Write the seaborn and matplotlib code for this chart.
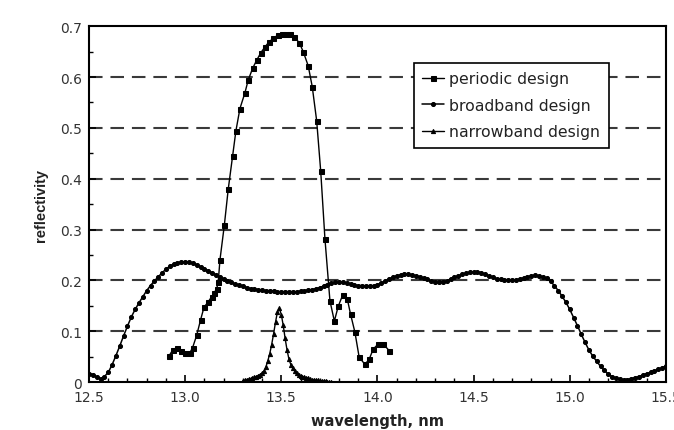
import matplotlib
matplotlib.use("Agg")
import matplotlib.pyplot as plt
import seaborn as sns
from matplotlib.ticker import MultipleLocator, FormatStrFormatter

# ---------------- data ----------------
periodic_wl = [12.917, 12.935, 12.956, 12.978, 13.000, 13.025, 13.039, 13.060, 13.080, 13.098,
               13.120, 13.138, 13.152, 13.164, 13.172, 13.181, 13.204, 13.224, 13.247, 13.264,
               13.285, 13.311, 13.328, 13.351, 13.372, 13.394, 13.415, 13.436, 13.458, 13.481,
               13.502, 13.524, 13.545, 13.568, 13.594, 13.614, 13.640, 13.661, 13.684, 13.705,
               13.727, 13.753, 13.776, 13.796, 13.819, 13.843, 13.860, 13.883, 13.905, 13.935,
               13.957, 13.978, 14.004, 14.030, 14.061]
periodic_r = [0.052, 0.063, 0.068, 0.062, 0.057, 0.058, 0.068, 0.092, 0.122, 0.147,
              0.158, 0.168, 0.176, 0.184, 0.196, 0.240, 0.309, 0.379, 0.445, 0.494,
              0.538, 0.569, 0.594, 0.617, 0.633, 0.648, 0.659, 0.669, 0.676, 0.682,
              0.685, 0.685, 0.684, 0.679, 0.667, 0.650, 0.622, 0.581, 0.514, 0.415,
              0.282, 0.160, 0.120, 0.149, 0.171, 0.164, 0.134, 0.098, 0.049, 0.035,
              0.045, 0.065, 0.075, 0.075, 0.062]

broadband_wl = [12.50, 12.52, 12.54, 12.56, 12.58, 12.60, 12.62, 12.64, 12.66, 12.68,
                12.70, 12.72, 12.74, 12.76, 12.78, 12.80, 12.82, 12.84, 12.86, 12.88,
                12.90, 12.92, 12.94, 12.96, 12.98, 13.00, 13.02, 13.04, 13.06, 13.08,
                13.10, 13.12, 13.14, 13.16, 13.18, 13.20, 13.22, 13.24, 13.26, 13.28,
                13.30, 13.32, 13.34, 13.36, 13.38, 13.40, 13.42, 13.44, 13.46, 13.48,
                13.50, 13.52, 13.54, 13.56, 13.58, 13.60, 13.62, 13.64, 13.66, 13.68,
                13.70, 13.72, 13.74, 13.76, 13.78, 13.80, 13.82, 13.84, 13.86, 13.88,
                13.90, 13.92, 13.94, 13.96, 13.98, 14.00, 14.02, 14.04, 14.06, 14.08,
                14.10, 14.12, 14.14, 14.16, 14.18, 14.20, 14.22, 14.24, 14.26, 14.28,
                14.30, 14.32, 14.34, 14.36, 14.38, 14.40, 14.42, 14.44, 14.46, 14.48,
                14.50, 14.52, 14.54, 14.56, 14.58, 14.60, 14.62, 14.64, 14.66, 14.68,
                14.70, 14.72, 14.74, 14.76, 14.78, 14.80, 14.82, 14.84, 14.86, 14.88,
                14.90, 14.92, 14.94, 14.96, 14.98, 15.00, 15.02, 15.04, 15.06, 15.08,
                15.10, 15.12, 15.14, 15.16, 15.18, 15.20, 15.22, 15.24, 15.26, 15.28,
                15.30, 15.32, 15.34, 15.36, 15.38, 15.40, 15.42, 15.44, 15.46, 15.48,
                15.50]
broadband_r = [0.017, 0.015, 0.010, 0.007, 0.011, 0.019, 0.034, 0.052, 0.071, 0.091,
               0.110, 0.128, 0.143, 0.156, 0.168, 0.180, 0.190, 0.199, 0.207, 0.215,
               0.222, 0.228, 0.232, 0.235, 0.236, 0.237, 0.236, 0.234, 0.231, 0.227,
               0.223, 0.219, 0.215, 0.211, 0.206, 0.202, 0.199, 0.196, 0.193, 0.191,
               0.189, 0.186, 0.184, 0.183, 0.182, 0.181, 0.180, 0.180, 0.179, 0.178,
               0.178, 0.178, 0.178, 0.178, 0.178, 0.179, 0.180, 0.181, 0.182, 0.184,
               0.186, 0.189, 0.192, 0.194, 0.196, 0.196, 0.196, 0.194, 0.193, 0.191,
               0.190, 0.190, 0.189, 0.189, 0.190, 0.192, 0.195, 0.199, 0.203, 0.206,
               0.209, 0.211, 0.212, 0.212, 0.211, 0.209, 0.207, 0.204, 0.202, 0.199,
               0.197, 0.196, 0.197, 0.199, 0.203, 0.206, 0.209, 0.212, 0.214, 0.216,
               0.217, 0.217, 0.215, 0.212, 0.209, 0.206, 0.203, 0.202, 0.201, 0.200,
               0.200, 0.201, 0.203, 0.205, 0.207, 0.209, 0.210, 0.209, 0.207, 0.204,
               0.198, 0.190, 0.180, 0.169, 0.157, 0.143, 0.127, 0.111, 0.094, 0.078,
               0.063, 0.051, 0.041, 0.031, 0.023, 0.016, 0.011, 0.008, 0.006, 0.005,
               0.005, 0.007, 0.009, 0.011, 0.014, 0.017, 0.019, 0.022, 0.025, 0.028,
               0.032]

narrowband_wl = [13.30, 13.31, 13.32, 13.33, 13.34, 13.35, 13.36, 13.37, 13.38, 13.39,
                 13.40, 13.41, 13.42, 13.43, 13.44, 13.45, 13.46, 13.47, 13.48, 13.49,
                 13.50, 13.51, 13.52, 13.53, 13.54, 13.55, 13.56, 13.57, 13.58, 13.59,
                 13.60, 13.61, 13.62, 13.63, 13.64, 13.65, 13.66, 13.67, 13.68, 13.69,
                 13.70, 13.71, 13.72, 13.73, 13.74, 13.75, 13.76]
narrowband_r = [0.003, 0.004, 0.005, 0.006, 0.007, 0.008, 0.010, 0.011, 0.013, 0.015,
                0.018, 0.022, 0.030, 0.042, 0.056, 0.074, 0.095, 0.118, 0.138, 0.145,
                0.133, 0.112, 0.086, 0.063, 0.045, 0.034, 0.027, 0.022, 0.018, 0.015,
                0.012, 0.011, 0.010, 0.009, 0.008, 0.006, 0.005, 0.005, 0.004, 0.004,
                0.003, 0.003, 0.002, 0.002, 0.001, 0.001, 0.001]

labels = ["periodic design", "broadband design", "narrowband design"]
x_ticks = [12.5, 13.0, 13.5, 14.0, 14.5, 15.0, 15.5]
y_ticks = [0, 0.1, 0.2, 0.3, 0.4, 0.5, 0.6, 0.7]
grid_levels = [0.1, 0.2, 0.3, 0.4, 0.5, 0.6]

# ---------------- plot ----------------
sns.set_style("ticks")
plt.rcParams["font.family"] = ["DejaVu Sans"]

fig = plt.figure(figsize=(6.74, 4.31), dpi=100)
ax = fig.add_axes([0.132, 0.111, 0.856, 0.826])

for lv in grid_levels:
    ax.axhline(lv, color="#3a3a3a", lw=1.5, dashes=(6.5, 3.8), zorder=0)

sns.lineplot(x=periodic_wl, y=periodic_r, ax=ax, color="black", lw=1.0,
             marker="s", markersize=3.6, markeredgecolor="black", label=labels[0],
             sort=False, zorder=3)
sns.lineplot(x=broadband_wl, y=broadband_r, ax=ax, color="black", lw=1.1,
             marker="o", markersize=2.9, markeredgecolor="black", label=labels[1],
             sort=False, zorder=2)
sns.lineplot(x=narrowband_wl, y=narrowband_r, ax=ax, color="black", lw=1.0,
             marker="^", markersize=3.0, markeredgecolor="black", label=labels[2],
             sort=False, zorder=2)

ax.set_xlim(12.5, 15.5)
ax.set_ylim(0, 0.7)
ax.set_xticks(x_ticks)
ax.set_yticks(y_ticks)
ax.xaxis.set_major_formatter(FormatStrFormatter("%.1f"))
ax.set_yticklabels(["0"] + [f"{v:.1f}" for v in y_ticks[1:]])
ax.xaxis.set_minor_locator(MultipleLocator(0.1))
ax.yaxis.set_minor_locator(MultipleLocator(0.05))
ax.tick_params(axis="both", which="both", direction="in", top=False, right=False,
               colors="black", labelcolor="#333333")
ax.tick_params(axis="both", which="major", length=5, width=1.2, labelsize=10)
ax.tick_params(axis="x", which="major", pad=6)
ax.tick_params(axis="y", which="major", pad=5)
ax.tick_params(axis="both", which="minor", length=3, width=1.0)
for s in ax.spines.values():
    s.set_visible(True)
    s.set_color("black")
    s.set_linewidth(1.5)

ax.set_xlabel("wavelength, nm", fontsize=10.5, fontweight="bold", color="#222222", labelpad=6)
ax.set_ylabel("reflectivity", fontsize=10.5, fontweight="bold", color="#222222", labelpad=9,
              family=["Liberation Sans", "DejaVu Sans"])

leg = ax.legend(loc="upper left", bbox_to_anchor=(0.563, 0.897), frameon=True,
                fancybox=False, edgecolor="black", framealpha=1, fontsize=11.3,
                handlelength=1.4, handletextpad=0.3, borderpad=0.55, labelspacing=0.72,
                borderaxespad=0.0)
leg.get_frame().set_linewidth(1.2)
for t in leg.get_texts():
    t.set_color("#222222")

fig.savefig("out.png", dpi=100)
